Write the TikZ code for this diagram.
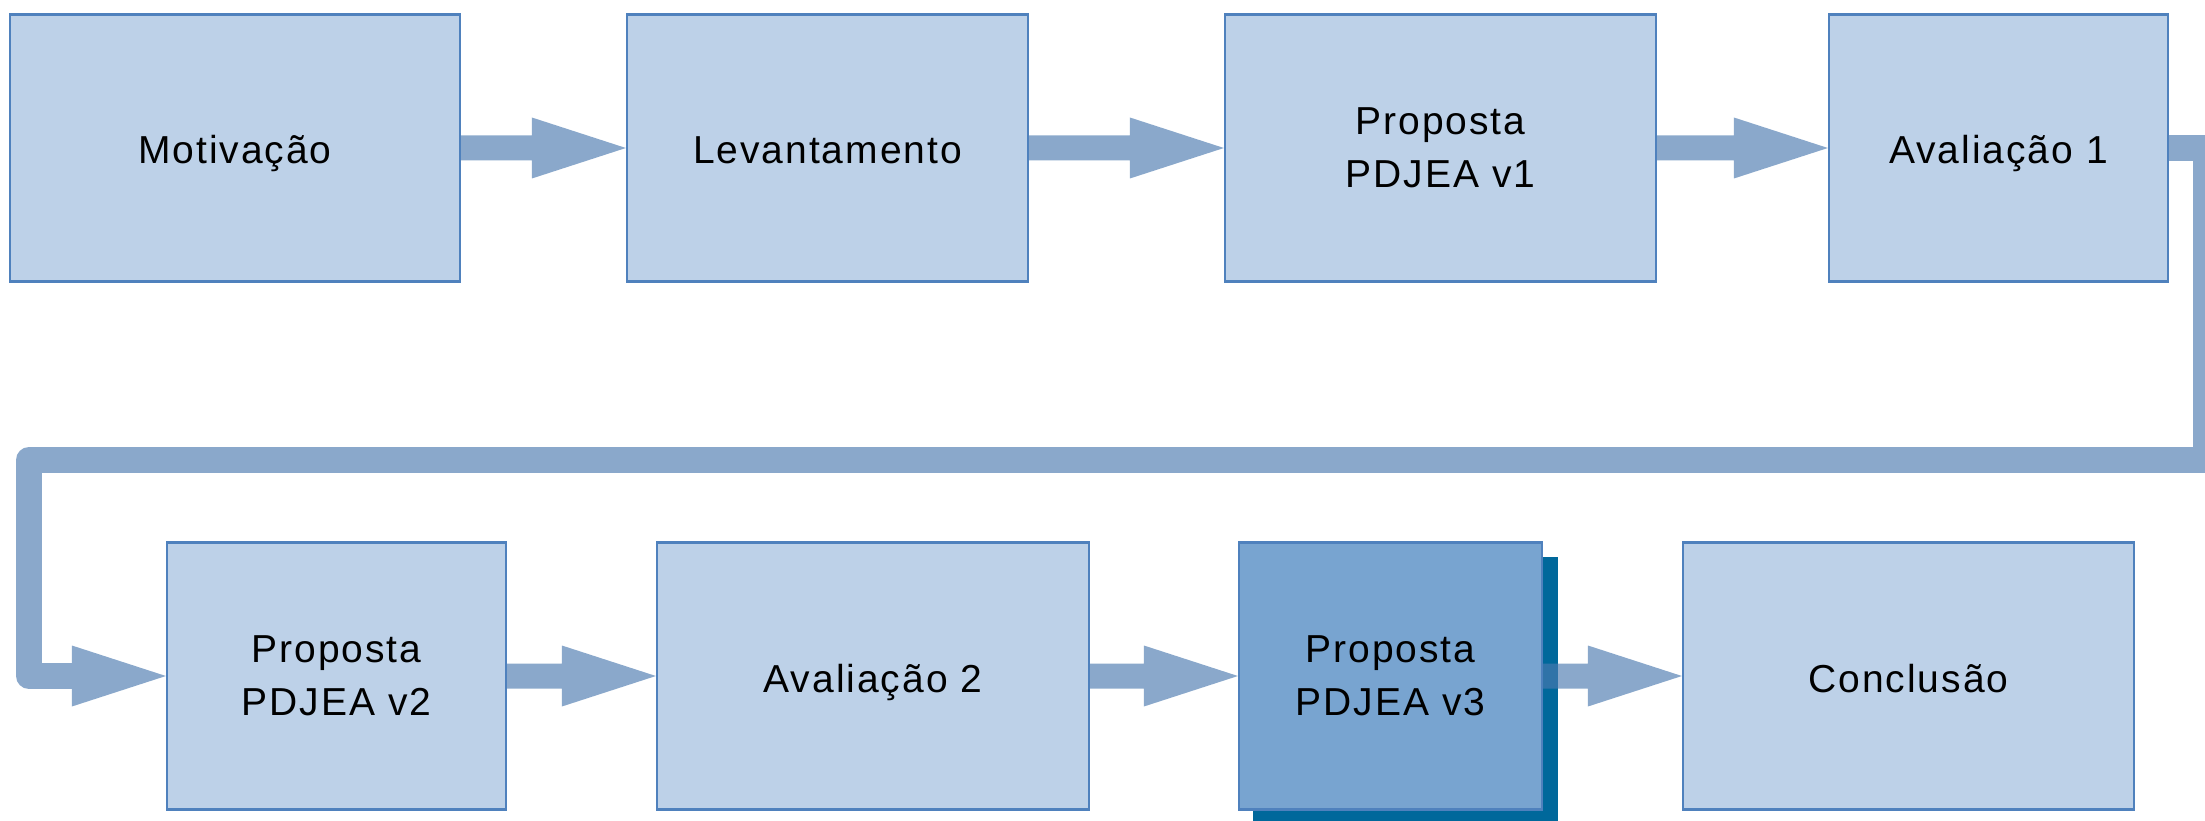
\documentclass[tikz,border=0pt]{standalone}
\usepackage{fontspec}
\setmainfont{Liberation Sans}[LetterSpace=5]
\usetikzlibrary{calc}
\pgfdeclarelayer{back}
\pgfsetlayers{back,main}

\definecolor{boxfill}{HTML}{BDD1E8}
\definecolor{boxline}{HTML}{4F81BD}
\definecolor{hotfill}{HTML}{78A4D0}
\definecolor{shadowblue}{HTML}{00689B}
\definecolor{flowbase}{HTML}{4B7AAF}
\definecolor{flowsolid}{HTML}{8AA8CB}

\tikzset{
  stage/.style={draw=boxline, line width=2.2pt, fill=boxfill, inner sep=0pt,
    minimum height=267pt, align=center,
    font=\fontsize{39}{53}\selectfont},
  oneline/.style={text height=32pt, text depth=0pt},
  hotstage/.style={stage, fill=hotfill},
  flow/.style={fill=flowbase, fill opacity=0.65},
  loopline/.style={draw=flowsolid, line width=26pt, line join=round},
  loophead/.style={fill=flowsolid},
}

% block arrow from the east side of #1 to the west side of #2
\newcommand\flowarrow[2]{%
  \fill[flow] let \p1=(#1.east), \p2=(#2.west) in
    (\x1,\y1+12.5pt) -- (\x2-94pt,\y1+12.5pt) -- (\x2-94pt,\y1+30.5pt)
    -- (\x2,\y1) -- (\x2-94pt,\y1-30.5pt) -- (\x2-94pt,\y1-12.5pt)
    -- (\x1,\y1-12.5pt) -- cycle;}

\begin{document}
\begin{tikzpicture}[x=1pt, y=-1pt]
\useasboundingbox (0,0) rectangle (2205,821);
\clip (0,0) rectangle (2205,821);

% top row
\node[stage, oneline, minimum width=450pt] (mot) at (235,148) {Motivação};
\node[stage, oneline, minimum width=401pt] (lev) at (827.5,148) {Levantamento};
\node[stage, minimum width=431pt] (pv1) at (1440.5,148) {Proposta\\PDJEA v1};
\node[stage, oneline, minimum width=339pt] (av1) at (1998.5,148) {Avaliação 1};

% bottom row
\node[stage, minimum width=339pt] (pv2) at (336.5,676) {Proposta\\PDJEA v2};
\node[stage, oneline, minimum width=432pt] (av2) at (873,676) {Avaliação 2};
\node[hotstage, minimum width=303pt] (pv3) at (1390.5,676) {Proposta\\PDJEA v3};
\node[stage, oneline, minimum width=451pt] (con) at (1908.5,676) {Conclusão};

\coordinate (turnR) at (2206,460);
\coordinate (turnL) at (29,460);
\coordinate (loopend) at ($(pv2.west)+(-94,0)$);

\begin{pgfonlayer}{back}
  % shadow behind the current proposal
  \fill[shadowblue] ($(pv3.south west)+(15,16)$) rectangle ($(pv3.north east)+(15,16)$);

  % flow between stages
  \flowarrow{mot}{lev}
  \flowarrow{lev}{pv1}
  \flowarrow{pv1}{av1}
  \flowarrow{pv2}{av2}
  \flowarrow{av2}{pv3}
  \flowarrow{pv3}{con}

  % return line from the first row to the second
  \draw[loopline] (av1.east) -| (turnR) -- (turnL) |- (loopend);
  \fill[loophead] ($(loopend)+(0,-30.5)$) -- (pv2.west) -- ($(loopend)+(0,30.5)$) -- cycle;
\end{pgfonlayer}
\end{tikzpicture}
\end{document}
